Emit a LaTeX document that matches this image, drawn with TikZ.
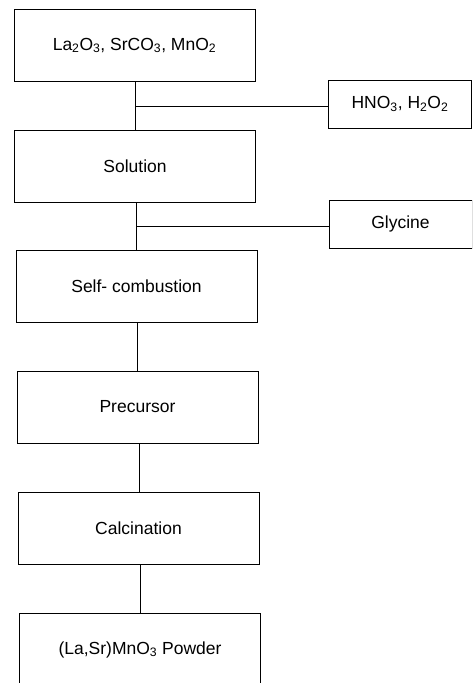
\documentclass[tikz,border=0pt]{standalone}
\usepackage{fontspec}
\setmainfont{Liberation Sans}
\newcommand{\sbs}[1]{\textsubscript{#1}}
\begin{document}
\begin{tikzpicture}[x=1pt,y=-1pt,
  stepbox/.style={draw=black,line width=0.9pt,minimum width=241pt,minimum height=72pt,inner sep=0pt,font=\fontsize{17.5}{20}\selectfont},
  sidebox/.style={draw=black,line width=0.9pt,minimum width=143pt,minimum height=48pt,inner sep=0pt,font=\fontsize{17.5}{20}\selectfont},
  link/.style={draw=black,line width=0.8pt}]
\clip (0,0) rectangle (472,683);
\fill[white] (0,0) rectangle (472,683);
\node[stepbox] (raw) at (134.5,45.5) {La\sbs{2}O\sbs{3}, SrCO\sbs{3}, MnO\sbs{2}};
\node[stepbox] (sol) at (135,166.5) {Solution};
\node[stepbox] (comb) at (136.5,286.5) {Self- combustion};
\node[stepbox] (prec) at (137.5,407) {Precursor};
\node[stepbox] (calc) at (138.5,528) {Calcination};
\node[stepbox] (powd) at (140,649.5) {(La,Sr)MnO\sbs{3} Powder};
\node[sidebox] (acid) at (400,104) {HNO\sbs{3}, H\sbs{2}O\sbs{2}};
\node[sidebox] (gly) at (400.5,224) {Glycine};
\coordinate (j1) at (135,106);
\coordinate (j2) at (136,226);
\draw[link] (raw.south -| j1) -- (sol.north -| j1);
\draw[link] (j1) -- (acid.west |- j1);
\draw[link] (sol.south -| j2) -- (comb.north -| j2);
\draw[link] (j2) -- (gly.west |- j2);
\draw[link] (comb.south -| 137,0) -- (prec.north -| 137,0);
\draw[link] (prec.south -| 139,0) -- (calc.north -| 139,0);
\draw[link] (calc.south -| 140,0) -- (powd.north -| 140,0);
\end{tikzpicture}
\end{document}
